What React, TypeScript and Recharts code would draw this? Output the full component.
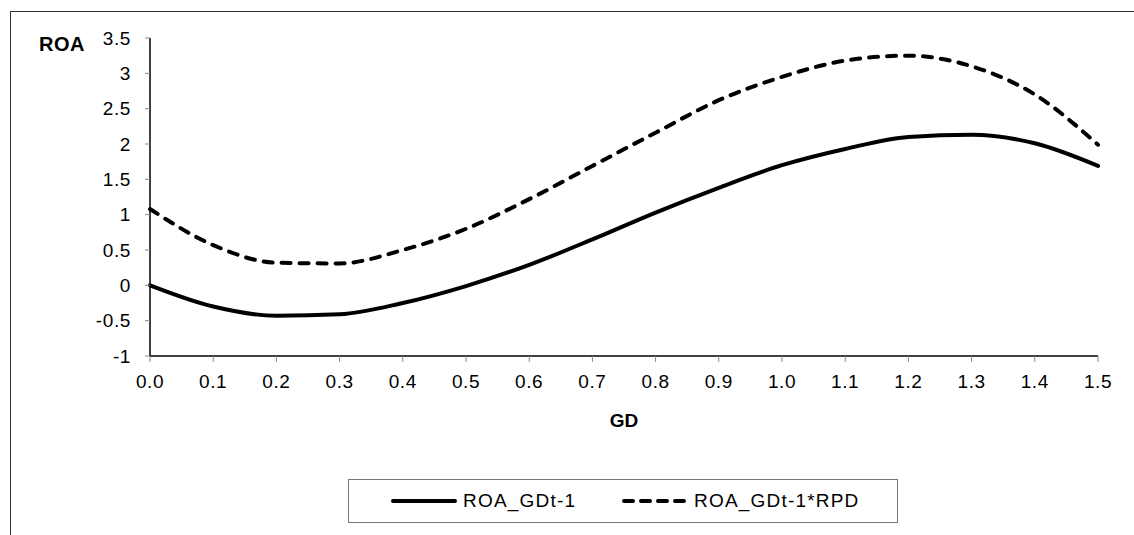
import React from 'react';
import { LineChart, Line, XAxis, YAxis } from 'recharts';

const GD_VALUES = [0, 0.1, 0.2, 0.3, 0.4, 0.5, 0.6, 0.7, 0.8, 0.9, 1.0, 1.1, 1.2, 1.3, 1.4, 1.5];
const ROA_GD = [0, -0.3, -0.43, -0.41, -0.25, -0.01, 0.29, 0.65, 1.03, 1.38, 1.7, 1.93, 2.1, 2.13, 2.01, 1.69];
const ROA_GD_RPD = [1.08, 0.57, 0.32, 0.31, 0.5, 0.8, 1.22, 1.69, 2.16, 2.62, 2.95, 3.18, 3.25, 3.1, 2.7, 1.99];
const Y_TICKS = [-1, -0.5, 0, 0.5, 1, 1.5, 2, 2.5, 3, 3.5];

const SERIES = [
  { key: 'roa', name: 'ROA_GDt-1', dash: undefined },
  { key: 'rpd', name: 'ROA_GDt-1*RPD', dash: '9 9' },
];

const data = GD_VALUES.map((gd, i) => ({ gd, roa: ROA_GD[i], rpd: ROA_GD_RPD[i] }));

const FONT = '"Liberation Sans", Arial, sans-serif';
const tickStyle = { fill: '#000', fontSize: 19, fontFamily: FONT, letterSpacing: 0.6 };

function LegendSample({ dash }: { dash?: string }) {
  return (
    <svg width={66} height={10} style={{ display: 'block' }}>
      <line
        x1={2}
        y1={5}
        x2={64}
        y2={5}
        stroke="#000"
        strokeWidth={4}
        strokeDasharray={dash ? '9 8' : undefined}
        strokeLinecap="round"
      />
    </svg>
  );
}

export default function App() {
  return (
    <div
      style={{
        position: 'fixed',
        left: 0,
        top: 0,
        width: 1134,
        height: 535,
        overflow: 'hidden',
        background: '#fff',
        fontFamily: FONT,
      }}
    >
      {/* outer frame, cut by the picture's edge */}
      <div
        style={{
          position: 'absolute',
          left: 10,
          top: 11,
          width: 1200,
          height: 600,
          border: '1.5px solid #333',
        }}
      />
      <div style={{ position: 'absolute', left: 0, top: 0 }}>
        <LineChart
          width={1134}
          height={535}
          data={data}
          margin={{ top: 38, right: 36, left: 90, bottom: 149 }}
        >
          <XAxis
            dataKey="gd"
            type="number"
            domain={[0, 1.5]}
            ticks={GD_VALUES}
            tickFormatter={(v: number) => v.toFixed(1)}
            height={30}
            tick={tickStyle}
            tickSize={6}
            tickMargin={13}
            axisLine={{ stroke: '#000', strokeWidth: 1.5 }}
            tickLine={{ stroke: '#888' }}
          />
          <YAxis
            type="number"
            domain={[-1, 3.5]}
            ticks={Y_TICKS}
            width={60}
            tick={tickStyle}
            tickSize={5}
            tickMargin={14}
            axisLine={{ stroke: '#000', strokeWidth: 1.5 }}
            tickLine={{ stroke: '#888' }}
          />
          {SERIES.map((s) => (
            <Line
              key={s.key}
              dataKey={s.key}
              name={s.name}
              type="monotone"
              stroke="#000"
              strokeWidth={4}
              strokeDasharray={s.dash}
              strokeLinecap="round"
              dot={false}
              isAnimationActive={false}
            />
          ))}
        </LineChart>
      </div>
      <div
        style={{
          position: 'absolute',
          left: 39,
          top: 33,
          fontSize: 20,
          fontWeight: 'bold',
          lineHeight: '22px',
          letterSpacing: 0.5,
        }}
      >
        ROA
      </div>
      <div
        style={{
          position: 'absolute',
          left: 524,
          width: 200,
          top: 410,
          textAlign: 'center',
          fontSize: 19,
          fontWeight: 'bold',
          lineHeight: '22px',
        }}
      >
        GD
      </div>
      <div
        style={{
          position: 'absolute',
          left: 348,
          top: 479,
          width: 550,
          height: 44,
          border: '1px solid #777',
          boxSizing: 'border-box',
          fontSize: 19,
          whiteSpace: 'nowrap',
        }}
      >
        {SERIES.map((s, i) => (
          <div
            key={s.key}
            style={{
              display: 'flex',
              alignItems: 'center',
              position: 'absolute',
              top: 10,
              left: i === 0 ? 42 : 273,
            }}
          >
            <LegendSample dash={s.dash} />
            <span style={{ marginLeft: 6, letterSpacing: 1.2 }}>{s.name}</span>
          </div>
        ))}
      </div>
    </div>
  );
}
